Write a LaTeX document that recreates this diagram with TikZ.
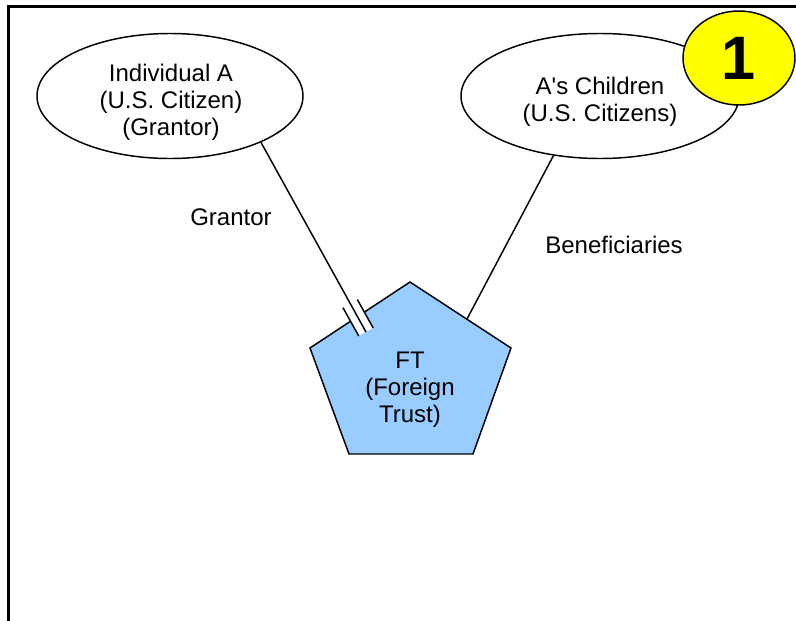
\documentclass[tikz,border=0pt]{standalone}
\usepackage{fontspec}
\setmainfont{Liberation Sans}
\usetikzlibrary{shapes.geometric}
\definecolor{trustblue}{RGB}{153,204,255}
\definecolor{badgeyellow}{RGB}{255,255,0}
\tikzset{
  party/.style={ellipse, draw=black, line width=1.1pt, fill=white, inner sep=0pt},
  lbl/.style={align=center, font=\fontsize{18}{20.25}\selectfont},
  link/.style={black, line width=1.1pt},
}

\begin{document}
\begin{tikzpicture}[x=0.75pt,y=-0.75pt]
\useasboundingbox (0,0) rectangle (796,621);
\draw[black, line width=2.25pt] (796,6) -- (8,6) -- (8,621);
% foreign trust
\coordinate (p1) at (410,282);
\coordinate (p2) at (511,348);
\coordinate (p3) at (473,454);
\coordinate (p4) at (349,454);
\coordinate (p5) at (310,348);
\draw[link, fill=trustblue] (p1) -- (p2) -- (p3) -- (p4) -- (p5) -- cycle;
\node[lbl] (ft) at (410,390) {FT\\(Foreign\\Trust)};
\node[party, minimum width=199.5pt, minimum height=93.75pt] (indA) at (170,96) {};
\node[lbl] (indAtext) at (171,102) {Individual A\\(U.S. Citizen)\\(Grantor)};
\node[party, minimum width=208.5pt, minimum height=93.75pt] (kids) at (600,96) {};
\node[lbl] (kidstext) at (600,102) {A\textquotesingle s Children\\(U.S. Citizens)};
\node[ellipse, draw=black, line width=1.1pt, fill=badgeyellow, minimum width=84pt, minimum height=70.5pt, inner sep=0pt, font=\bfseries\fontsize{46}{46}\selectfont] (badge) at (739,58) {1};
% connectors
\coordinate (gEnd) at (366,332);
\coordinate (bEnd) at (467,319);
\draw[link] (kids.-128) -- (bEnd);
\node[fill=white, minimum width=24pt, minimum height=12pt, inner sep=0pt, rotate=-60.8, anchor=east] (gMark) at (gEnd) {};
\draw[link] (indA.-27) -- (gEnd);
\draw[link] (gMark.north west) -- (gMark.north east) (gMark.south west) -- (gMark.south east);
\node[lbl] (grantorLbl) at (231,217) {Grantor};
\node[lbl] (benefLbl) at (614,245) {Beneficiaries};
\end{tikzpicture}
\end{document}
